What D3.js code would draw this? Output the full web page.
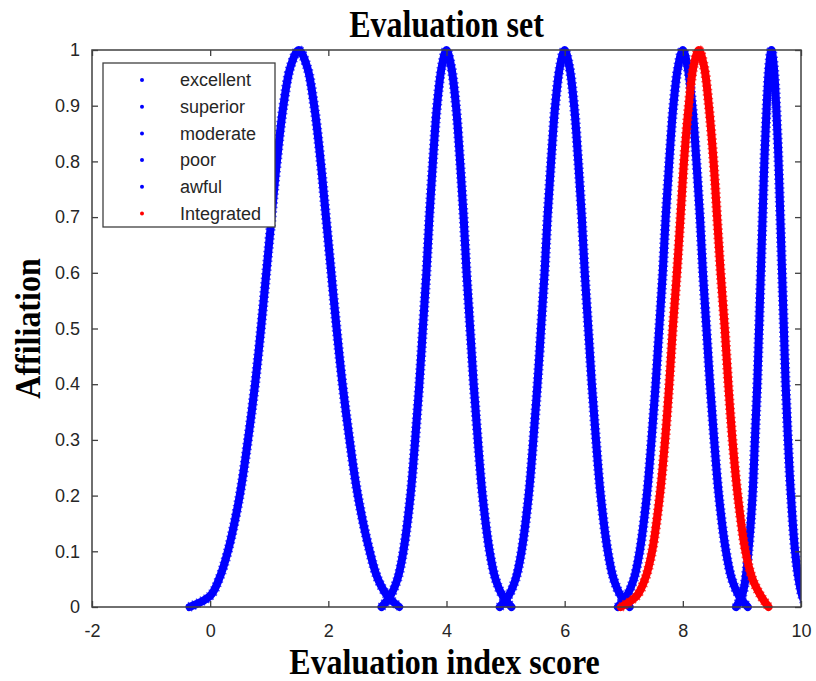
<!DOCTYPE html>
<html>
<head>
<meta charset="utf-8">
<script src="https://cdn.jsdelivr.net/npm/d3@7"></script>
<style>
  body { margin: 0; background: #fff; }
  .tick text { font-family: "Liberation Sans", Arial, sans-serif; font-size: 18px; fill: #262626; }
  .serif { font-family: "Liberation Serif", "Times New Roman", serif; font-weight: bold; fill: #000; }
</style>
</head>
<body>
<div id="chart"></div>
<script>
var levels = [0, 0.02, 0.05, 0.1, 0.2, 0.3, 0.4, 0.5, 0.6, 0.7, 0.8, 0.9, 0.97, 1];

var names = ['excellent', 'superior', 'moderate', 'poor', 'awful', 'Integrated'];
var colors = ['#0000ff', '#0000ff', '#0000ff', '#0000ff', '#0000ff', '#ff0000'];

// x on the left branch (rising) and the right branch (falling), one per level
var excellentLeft  = [-0.35, 0.0, 0.15, 0.3, 0.5, 0.64, 0.76, 0.86, 0.95, 1.04, 1.13, 1.24, 1.36, 1.5];
var excellentRight = [3.2, 3.0, 2.84, 2.7, 2.5, 2.36, 2.24, 2.14, 2.05, 1.96, 1.87, 1.76, 1.64, 1.5];
var superiorLeft   = [2.9, 3.05, 3.17, 3.27, 3.39, 3.47, 3.54, 3.60, 3.66, 3.71, 3.77, 3.84, 3.92, 4];
var superiorRight  = [5.1, 4.95, 4.83, 4.73, 4.61, 4.53, 4.46, 4.40, 4.34, 4.29, 4.23, 4.16, 4.08, 4];
var moderateLeft   = [4.9, 5.05, 5.17, 5.27, 5.39, 5.47, 5.54, 5.60, 5.66, 5.71, 5.77, 5.84, 5.92, 6];
var moderateRight  = [7.1, 6.95, 6.83, 6.73, 6.61, 6.53, 6.46, 6.40, 6.34, 6.29, 6.23, 6.16, 6.08, 6];
var poorLeft       = [6.9, 7.05, 7.17, 7.27, 7.39, 7.47, 7.54, 7.60, 7.66, 7.71, 7.77, 7.84, 7.92, 8];
var poorRight      = [9.1, 8.95, 8.83, 8.73, 8.61, 8.53, 8.46, 8.40, 8.34, 8.29, 8.23, 8.16, 8.08, 8];
var awfulLeft      = [8.9, 9.0, 9.06, 9.11, 9.18, 9.22, 9.26, 9.29, 9.32, 9.35, 9.38, 9.42, 9.46, 9.5];
var awfulRight     = [10.1, 10.02, 9.96, 9.9, 9.83, 9.78, 9.74, 9.71, 9.68, 9.65, 9.62, 9.58, 9.54, 9.5];
var integratedLeft  = [6.95, 7.22, 7.36, 7.48, 7.61, 7.70, 7.77, 7.83, 7.90, 7.96, 8.02, 8.10, 8.18, 8.27];
var integratedRight = [9.45, 9.32, 9.18, 9.06, 8.93, 8.84, 8.77, 8.71, 8.64, 8.58, 8.52, 8.44, 8.36, 8.27];

var xTicks = [-2, 0, 2, 4, 6, 8, 10];
var yTicks = [0, 0.1, 0.2, 0.3, 0.4, 0.5, 0.6, 0.7, 0.8, 0.9, 1];

var branches = [
    [excellentLeft, excellentRight],
    [superiorLeft, superiorRight],
    [moderateLeft, moderateRight],
    [poorLeft, poorRight],
    [awfulLeft, awfulRight],
    [integratedLeft, integratedRight]
];

var W = 816, H = 681;
var margin = { top: 50, left: 92, bottom: 74, right: 15 },
    width = W - margin.left - margin.right,
    height = H - margin.top - margin.bottom;

var svg = d3.select('#chart').append('svg')
    .attr('width', W)
    .attr('height', H);

var g = svg.append('g')
    .attr('transform', 'translate(' + margin.left + ',' + margin.top + ')');

var x = d3.scaleLinear().domain([-2, 10]).range([0, width]);
var y = d3.scaleLinear().domain([0, 1]).range([height, 0]);

// clip only left/right, peaks may poke over the top border
g.append('clipPath').attr('id', 'clip')
    .append('rect')
    .attr('x', 0).attr('y', -10)
    .attr('width', width).attr('height', height + 20);

var line = d3.line()
    .x(d => x(d[0]))
    .y(d => y(d[1]))
    .curve(d3.curveCatmullRom.alpha(0.5));

var curves = g.append('g').attr('clip-path', 'url(#clip)');

branches.forEach(function (b, i) {
    var pts = b[0].map((v, k) => [v, levels[k]]);
    for (var k = levels.length - 2; k >= 0; k--) pts.push([b[1][k], levels[k]]);
    curves.append('path')
        .datum(pts)
        .attr('fill', 'none')
        .attr('stroke', colors[i])
        .attr('stroke-width', 8)
        .attr('stroke-linejoin', 'round')
        .attr('stroke-linecap', 'round')
        .attr('d', line);
    // dotted edge texture like the scattered cloud drops
    curves.append('path')
        .datum(pts)
        .attr('fill', 'none')
        .attr('stroke', colors[i])
        .attr('stroke-width', 10)
        .attr('stroke-dasharray', '1.5 3')
        .attr('stroke-opacity', 0.7)
        .attr('d', line);
});

// axes, ticks inward on all four sides (box on)
var axisColor = '#404040';
g.append('g')
    .attr('transform', 'translate(0,' + height + ')')
    .call(d3.axisBottom(x).tickValues(xTicks).tickSizeInner(-6).tickSizeOuter(0).tickPadding(17).tickFormat(d => String(d)));
g.append('g')
    .call(d3.axisTop(x).tickValues(xTicks).tickSizeInner(-6).tickSizeOuter(0).tickFormat(''));
g.append('g')
    .call(d3.axisLeft(y).tickValues(yTicks).tickSizeInner(-6).tickSizeOuter(0).tickPadding(12).tickFormat(d => d === 0 || d === 1 ? String(d) : d3.format('.1f')(d)));
g.append('g')
    .attr('transform', 'translate(' + width + ',0)')
    .call(d3.axisRight(y).tickValues(yTicks).tickSizeInner(-6).tickSizeOuter(0).tickFormat(''));

g.selectAll('.domain').remove();
g.selectAll('.tick line').attr('stroke', axisColor).attr('stroke-width', 1.3);

g.append('rect')
    .attr('width', width).attr('height', height)
    .attr('fill', 'none')
    .attr('stroke', axisColor)
    .attr('stroke-width', 1.5);

// legend
var legend = g.append('g').attr('transform', 'translate(11,13)');
legend.append('rect')
    .attr('width', 172).attr('height', 164)
    .attr('fill', '#fff')
    .attr('stroke', axisColor)
    .attr('stroke-width', 1.3);
names.forEach(function (n, i) {
    var row = legend.append('g').attr('transform', 'translate(0,' + (17 + i * 26.7) + ')');
    row.append('circle').attr('cx', 39).attr('cy', 0).attr('r', 2).attr('fill', colors[i]);
    row.append('text')
        .attr('x', 77).attr('y', 0).attr('dy', '0.35em')
        .style('font-family', '"Liberation Sans", Arial, sans-serif')
        .style('font-size', '18px')
        .style('fill', '#262626')
        .text(n);
});

// titles (the source image is a bit stretched vertically)
svg.append('text')
    .attr('class', 'serif')
    .attr('transform', 'translate(' + (margin.left + width / 2) + ',37) scale(1,1.18)')
    .attr('text-anchor', 'middle')
    .style('font-size', '32px')
    .text('Evaluation set');

svg.append('text')
    .attr('class', 'serif')
    .attr('transform', 'translate(' + (margin.left + width / 2 - 2) + ',674) scale(1,1.15)')
    .attr('text-anchor', 'middle')
    .style('font-size', '32px')
    .text('Evaluation index score');

svg.append('text')
    .attr('class', 'serif')
    .attr('transform', 'translate(40,' + (margin.top + height / 2) + ') rotate(-90) scale(1,1.1)')
    .attr('text-anchor', 'middle')
    .style('font-size', '32px')
    .text('Affiliation');
</script>
</body>
</html>
